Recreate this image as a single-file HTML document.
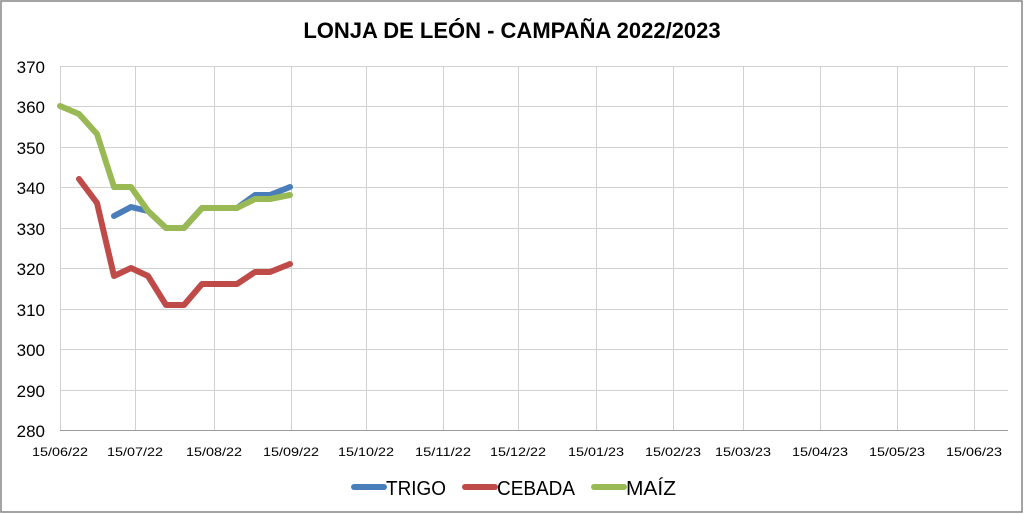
<!DOCTYPE html>
<html><head><meta charset="utf-8"><style>
body{margin:0;background:#fff}
svg{display:block}
text{font-family:"Liberation Sans",sans-serif}
</style></head><body>
<svg width="1024" height="514" viewBox="0 0 1024 514" xmlns="http://www.w3.org/2000/svg">
<rect x="1" y="1" width="1021" height="511" fill="#fff" stroke="#868686" stroke-width="1.5"/>
<text x="512" y="38" text-anchor="middle" font-size="22" font-weight="bold" fill="#000">LONJA DE LEÓN - CAMPAÑA 2022/2023</text>
<g stroke="#d0d0d0" stroke-width="1">
<line x1="60" y1="66.5" x2="1008" y2="66.5"/>
<line x1="60" y1="106.5" x2="1008" y2="106.5"/>
<line x1="60" y1="147.5" x2="1008" y2="147.5"/>
<line x1="60" y1="187.5" x2="1008" y2="187.5"/>
<line x1="60" y1="228.5" x2="1008" y2="228.5"/>
<line x1="60" y1="268.5" x2="1008" y2="268.5"/>
<line x1="60" y1="309.5" x2="1008" y2="309.5"/>
<line x1="60" y1="349.5" x2="1008" y2="349.5"/>
<line x1="60" y1="390.5" x2="1008" y2="390.5"/>
<line x1="60.5" y1="66" x2="60.5" y2="431"/>
<line x1="135.5" y1="66" x2="135.5" y2="431"/>
<line x1="214.5" y1="66" x2="214.5" y2="431"/>
<line x1="291.5" y1="66" x2="291.5" y2="431"/>
<line x1="366.5" y1="66" x2="366.5" y2="431"/>
<line x1="443.5" y1="66" x2="443.5" y2="431"/>
<line x1="518.5" y1="66" x2="518.5" y2="431"/>
<line x1="596.5" y1="66" x2="596.5" y2="431"/>
<line x1="673.5" y1="66" x2="673.5" y2="431"/>
<line x1="743.5" y1="66" x2="743.5" y2="431"/>
<line x1="820.5" y1="66" x2="820.5" y2="431"/>
<line x1="897.5" y1="66" x2="897.5" y2="431"/>
<line x1="974.5" y1="66" x2="974.5" y2="431"/>
</g>
<line x1="60" y1="430.5" x2="1008" y2="430.5" stroke="#9a9a9a" stroke-width="1"/>
<g font-size="17" fill="#000" text-anchor="end">
<text x="45" y="73">370</text><text x="45" y="113">360</text><text x="45" y="154">350</text>
<text x="45" y="194">340</text><text x="45" y="235">330</text><text x="45" y="275">320</text>
<text x="45" y="316">310</text><text x="45" y="356">300</text><text x="45" y="397">290</text>
<text x="45" y="437">280</text>
</g>
<g font-size="12" fill="#000" text-anchor="middle" transform="translate(0,0)">
<text x="60" y="456" textLength="56" lengthAdjust="spacingAndGlyphs">15/06/22</text>
<text x="135" y="456" textLength="56" lengthAdjust="spacingAndGlyphs">15/07/22</text>
<text x="214" y="456" textLength="56" lengthAdjust="spacingAndGlyphs">15/08/22</text>
<text x="291" y="456" textLength="56" lengthAdjust="spacingAndGlyphs">15/09/22</text>
<text x="366" y="456" textLength="56" lengthAdjust="spacingAndGlyphs">15/10/22</text>
<text x="443" y="456" textLength="56" lengthAdjust="spacingAndGlyphs">15/11/22</text>
<text x="518" y="456" textLength="56" lengthAdjust="spacingAndGlyphs">15/12/22</text>
<text x="596" y="456" textLength="56" lengthAdjust="spacingAndGlyphs">15/01/23</text>
<text x="673" y="456" textLength="56" lengthAdjust="spacingAndGlyphs">15/02/23</text>
<text x="743" y="456" textLength="56" lengthAdjust="spacingAndGlyphs">15/03/23</text>
<text x="820" y="456" textLength="56" lengthAdjust="spacingAndGlyphs">15/04/23</text>
<text x="897" y="456" textLength="56" lengthAdjust="spacingAndGlyphs">15/05/23</text>
<text x="974" y="456" textLength="56" lengthAdjust="spacingAndGlyphs">15/06/23</text>
</g>
<g fill="none" stroke-width="6" stroke-linejoin="round" stroke-linecap="round">
<polyline stroke="#4a7ebb" points="114,216 131,207 148,211 166,228 184,228 202,208 237,208 255,195 270,195 290,187"/>
<polyline stroke="#be4b48" points="79,179 97,203 114,276 131,268 148,276 166,305 184,305 202,284 237,284 255,272 270,272 290,264"/>
<polyline stroke="#98b954" points="60,106 79,114 97,134 114,187 131,187 148,211 166,228 184,228 202,208 237,208 255,199 270,199 290,195"/>
</g>
<g stroke-width="6" stroke-linecap="round">
<line x1="354" y1="487" x2="384" y2="487" stroke="#4a7ebb"/>
<line x1="465" y1="487" x2="495" y2="487" stroke="#be4b48"/>
<line x1="594" y1="487" x2="624" y2="487" stroke="#98b954"/>
</g>
<g font-size="20" fill="#000">
<text x="386" y="495" textLength="60" lengthAdjust="spacingAndGlyphs">TRIGO</text>
<text x="497" y="495" textLength="78" lengthAdjust="spacingAndGlyphs">CEBADA</text>
<text x="626" y="495" textLength="50" lengthAdjust="spacingAndGlyphs">MAÍZ</text>
</g>
</svg>
</body></html>
